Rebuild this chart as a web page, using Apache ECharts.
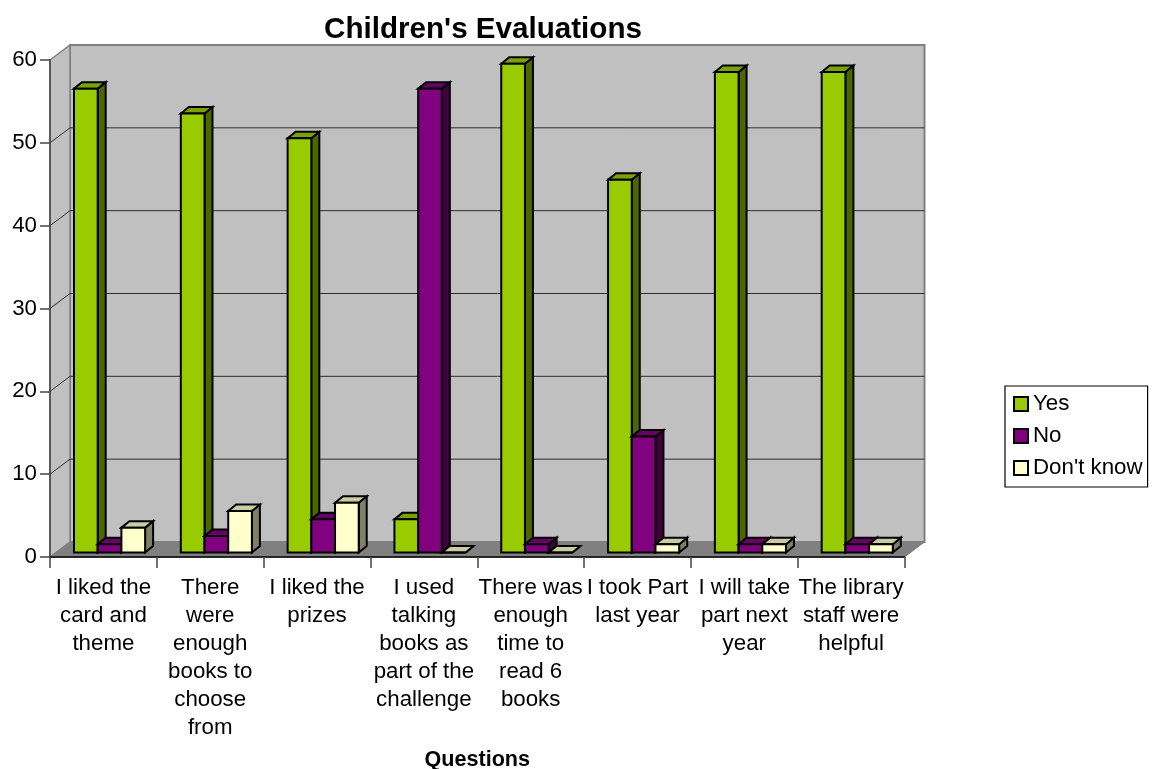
<!DOCTYPE html>
<html><head><meta charset="utf-8">
<style>html,body{margin:0;padding:0;background:#fff}#c{width:1153px;height:769px}</style>
<script src="https://cdn.jsdelivr.net/npm/echarts@6/dist/echarts.min.js"></script>
</head><body><div id="c"></div>
<script>
const categories = ["I liked the\ncard and\ntheme","There\nwere\nenough\nbooks to\nchoose\nfrom","I liked the\nprizes","I used\ntalking\nbooks as\npart of the\nchallenge","There was\nenough\ntime to\nread 6\nbooks","I took Part\nlast year","I will take\npart next\nyear","The library\nstaff were\nhelpful"];
const yes = [56,53,50,4,59,45,58,58];
const no = [1,2,4,56,1,14,1,1];
const dontKnow = [3,5,6,0,0,1,1,1];
const yTicks = [10,20,30,40,50];
const FONT = '"Liberation Sans", Arial, sans-serif';
const WALL = {dx:20, dy:-15};
const BAR = {off:24, w:23.7, dx:8, dy:-6.5, bx:0, by:-4.5};
const palette = [
  {front:'#99cc00', side:'#4d6600', top:'#7aa300'},
  {front:'#800080', side:'#400040', top:'#660066'},
  {front:'#ffffcc', side:'#808066', top:'#cccca3'}
];
function poly(points, fill, stroke, lw){
  return {type:'polygon', shape:{points}, style:{fill, stroke:stroke||'none', lineWidth:lw||0, lineJoin:'miter'}};
}
function renderWalls(params, api){
  const half = api.size([1,0])[0]/2;
  const o = api.coord([0,0]); const t = api.coord([0,60]); const r = api.coord([categories.length-1,0]);
  const x0 = o[0]-half, x1 = r[0]+half, y0 = o[1], y1 = t[1];
  const d = WALL;
  const kids = [
    poly([[x0+d.dx,y1+d.dy],[x1+d.dx,y1+d.dy],[x1+d.dx,y0+d.dy],[x0+d.dx,y0+d.dy]],'#c0c0c0','#808080',2),
    poly([[x0,y1],[x0+d.dx,y1+d.dy],[x0+d.dx,y0+d.dy],[x0,y0]],'#c0c0c0','#808080',1.5),
    poly([[x0,y0],[x0+d.dx,y0+d.dy],[x1+d.dx,y0+d.dy],[x1,y0]],'#808080','#808080',1)
  ];
  yTicks.forEach(v=>{
    const y = api.coord([0,v])[1];
    kids.push({type:'polyline', shape:{points:[[x0,y],[x0+d.dx,y+d.dy],[x1+d.dx,y+d.dy]]}, style:{fill:'none', stroke:'#2e2e2e', lineWidth:1}});
  });
  return {type:'group', children:kids};
}
function renderBar(params, api){
  const p = api.coord([api.value(0), api.value(1)]);
  const base = api.coord([api.value(0), 0]);
  const half = api.size([1,0])[0]/2;
  const c = palette[params.seriesIndex-1];
  const x = p[0]-half+BAR.off+(params.seriesIndex-1)*BAR.w;
  const w = BAR.w, dx = BAR.dx, dy = BAR.dy;
  const yt = p[1]+BAR.by, yb = base[1]+BAR.by;
  const lw = 2, k = '#000';
  return {type:'group', children:[
    poly([[x+w,yt],[x+w+dx,yt+dy],[x+w+dx,yb+dy],[x+w,yb]],c.side,k,lw),
    poly([[x,yt],[x+dx,yt+dy],[x+w+dx,yt+dy],[x+w,yt]],c.top,k,lw),
    poly([[x,yt],[x+w,yt],[x+w,yb],[x,yb]],c.front,k,lw)
  ]};
}
function barSeries(name, values, i){
  return {name, type:'custom', renderItem:renderBar, clip:false, silent:true, z:3,
    encode:{x:0,y:1}, data:values.map((v,j)=>[j,v]),
    itemStyle:{color:palette[i].front, borderColor:'#000', borderWidth:1.5}};
}
const chart = echarts.init(document.getElementById('c'), null, {renderer:'canvas'});
chart.setOption({
  animation:false,
  backgroundColor:'#fff',
  textStyle:{fontFamily:FONT},
  title:{text:"Children's Evaluations", left:478, textAlign:'center', top:10, textStyle:{fontFamily:FONT, fontSize:29.6, fontWeight:'bold', color:'#000'}},
  grid:{left:50, top:60, width:854.5, height:497, outerBoundsMode:'none', containLabel:false},
  xAxis:{type:'category', data:categories, boundaryGap:true, z:5,
    axisLine:{show:true, lineStyle:{color:'#000', width:1.5}},
    axisTick:{show:true, length:11, alignWithLabel:false, lineStyle:{color:'#444', width:1.5}},
    axisLabel:{interval:0, margin:17, color:'#000', fontFamily:FONT, fontSize:22.3, lineHeight:28},
    splitLine:{show:false},
    name:'Questions', nameLocation:'middle', nameGap:192,
    nameTextStyle:{fontFamily:FONT, fontSize:21.6, fontWeight:'bold', color:'#000'}
  },
  yAxis:{type:'value', min:0, max:60, interval:10, z:5,
    axisLine:{show:true, lineStyle:{color:'#444', width:1.5}},
    axisTick:{show:true, length:10, lineStyle:{color:'#444', width:1.5}},
    axisLabel:{margin:13, color:'#000', fontFamily:FONT, fontSize:22.3},
    splitLine:{show:false}
  },
  legend:{orient:'vertical', left:1005, top:386, padding:[7,5,8,8],
    data:['Yes','No',"Don't know"], icon:'rect', itemWidth:14, itemHeight:14, itemGap:10,
    backgroundColor:'#fff', borderColor:'#000', borderWidth:1.2, selectedMode:false,
    textStyle:{fontFamily:FONT, fontSize:22.3, color:'#000', padding:[0,0,0,0], lineHeight:22}
  },
  series:[
    {name:'walls', type:'custom', renderItem:renderWalls, clip:false, silent:true, z:1, encode:{x:0,y:1}, data:[[0,0]]},
    barSeries('Yes', yes, 0),
    barSeries('No', no, 1),
    barSeries("Don't know", dontKnow, 2)
  ]
});
</script></body></html>
